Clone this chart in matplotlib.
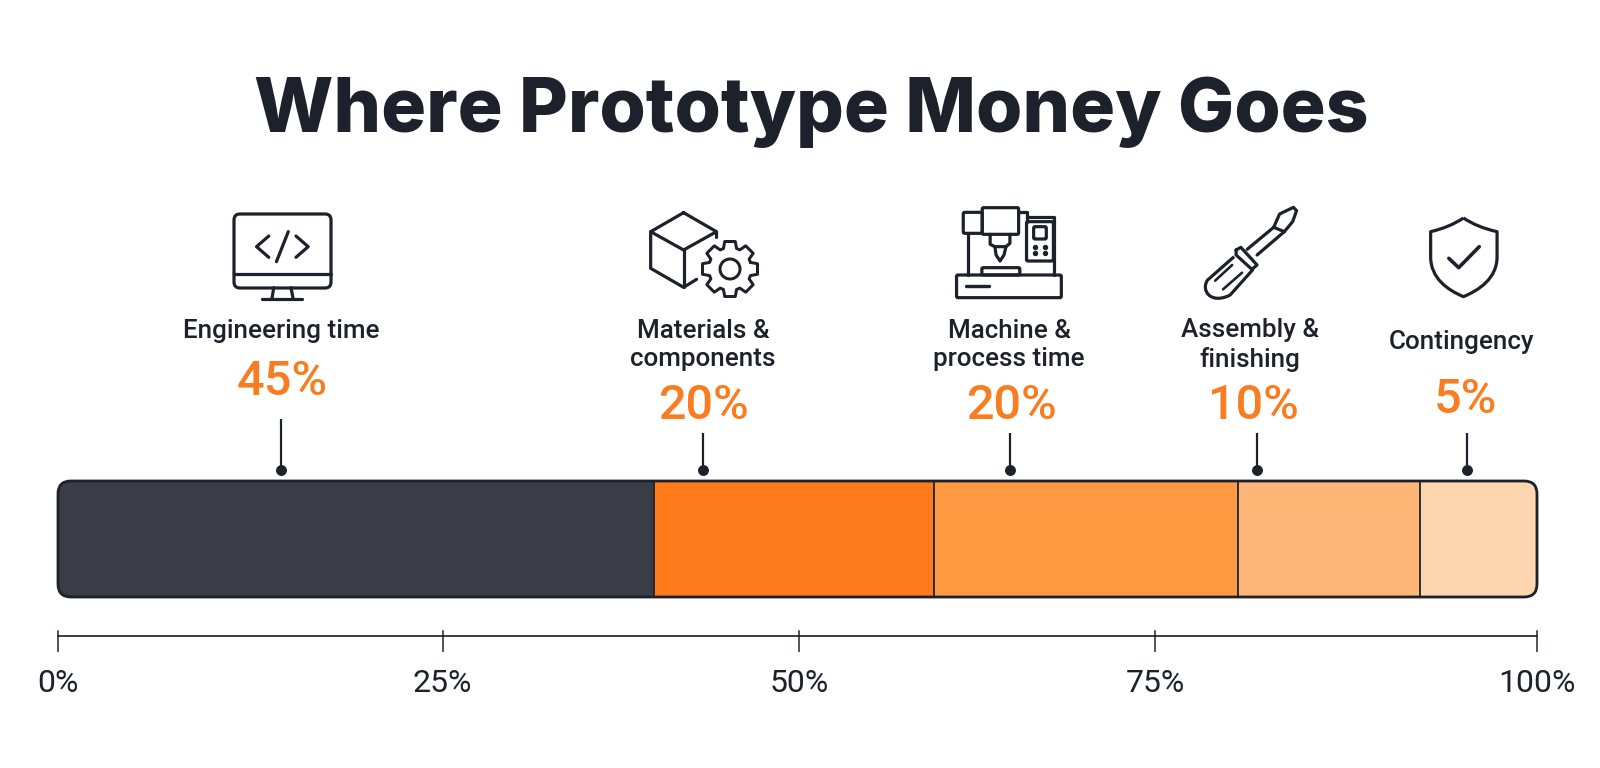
import numpy as np
import matplotlib.pyplot as plt
from matplotlib.patches import FancyBboxPatch, PathPatch, Circle
from matplotlib.path import Path
from matplotlib.ticker import FixedLocator, FixedFormatter
from matplotlib.transforms import Affine2D

# widths of the segments as drawn, they do not follow the printed shares
categories = ['Engineering time', 'Materials &\ncomponents', 'Machine &\nprocess time',
              'Assembly &\nfinishing', 'Contingency']
printed_shares = ['45%', '20%', '20%', '10%', '5%']
drawn_widths = [40.3, 18.9, 20.6, 12.3, 7.9]
callout_at = [15.1, 43.6, 64.4, 81.1, 95.3]
seg_colors = ['#3a3d45', '#ff7a1a', '#ff9a42', '#ffb677', '#fdd5ae']
tick_at = [0, 26.0, 50.1, 74.2, 100]
tick_labels = ['0%', '25%', '50%', '75%', '100%']

INK = '#1c212b'
ORANGE = '#f97c20'
W, H = 1600, 768
px = 72 / 100

plt.rcParams['font.family'] = ['Inter', 'DejaVu Sans']
fig = plt.figure(figsize=(W / 100, H / 100), dpi=100, facecolor='white')

# overlay in pixel coordinates for text and icons
ov = fig.add_axes([0, 0, 1, 1])
ov.set_xlim(0, W)
ov.set_ylim(H, 0)
ov.axis('off')

ax = fig.add_axes([58 / W, 1 - 597 / H, (1537 - 58) / W, 116 / H])
ax.set_xlim(0, 100)
ax.set_ylim(0, 1)
ax.patch.set_visible(False)
ax.get_yaxis().set_visible(False)
for s in ['top', 'left', 'right']:
    ax.spines[s].set_visible(False)

# stacked bar, clipped to a rounded outline
outline = FancyBboxPatch((0, 0), 1479, 116, boxstyle='round,pad=0,rounding_size=13',
                         fc='none', ec=INK, lw=2.8 * px, zorder=5, clip_on=False)
outline.set_transform(Affine2D().scale(100 / 1479, 1 / 116) + ax.transData)
ax.add_patch(outline)
lefts = np.cumsum([0] + drawn_widths[:-1])
bars = ax.barh(0.5, drawn_widths, left=lefts, height=1, color=seg_colors, zorder=2)
for b in bars:
    b.set_clip_path(outline.get_path(), outline.get_transform())
ax.vlines(lefts[1:], 0, 1, color=INK, lw=1.8 * px, zorder=4)

# percent scale under the bar
sp = ax.spines['bottom']
sp.set_position(('outward', 39 * px))
sp.set_bounds(0, 100)
sp.set_linewidth(1.7 * px)
sp.set_color(INK)
ax.xaxis.set_major_locator(FixedLocator(tick_at))
ax.xaxis.set_major_formatter(FixedFormatter(tick_labels))
ax.tick_params(axis='x', length=16 * px, width=1.5 * px, color=INK, pad=17 * px,
               labelsize=23, labelcolor=INK, labelfontfamily='Roboto')
for t in tick_at:
    ax.plot([t, t], [(597 - 636) / 116, (597 - 631) / 116], color=INK, lw=1.5 * px, clip_on=False)

# callouts
for x, top in zip(callout_at, [419, 433, 433, 433, 433]):
    ax.plot([x, x], [(597 - top) / 116, (597 - 470) / 116], color=INK, lw=2.2 * px, clip_on=False,
            solid_capstyle='butt')
    ax.plot([x], [(597 - 470) / 116], 'o', ms=9.5 * px, color=INK, clip_on=False)

ov.text(811, 112, 'Where Prototype Money Goes', ha='center', va='center',
        fontsize=54, fontweight='heavy', color=INK)

label_x = [281, 703, 1009, 1250, 1462]
label_y = [331, 345, 345, 345, 342]
share_x = [282, 703, 1011, 1253, 1465]
share_y = [382, 406, 406, 406, 400]
for c, s, lx, ly, sx, sy in zip(categories, printed_shares, label_x, label_y, share_x, share_y):
    ov.text(lx, ly, c, ha='center', va='center', fontsize=18.7, fontweight='medium', color=INK,
            linespacing=1.24, family='Roboto')
    ov.text(sx, sy, s, ha='center', va='center', fontsize=35, fontweight='medium', color=ORANGE,
            family='Roboto')


# icons are traced in the coordinates of two zoomed crops
def crop_a(p):
    p = np.asarray(p, float)
    return np.c_[180 + p[:, 0] * 600 / 1568, 190 + p[:, 1] / 3]


def crop_b(p):
    p = np.asarray(p, float)
    return np.c_[900 + p[:, 0] * 620 / 1568, 190 + p[:, 1] / 3]


def stroke(pts, lw=3.2):
    pts = np.asarray(pts)
    ov.plot(pts[:, 0], pts[:, 1], color=INK, lw=lw * px, solid_joinstyle='round',
            solid_capstyle='round')


def rbox(x0, y0, x1, y1, r=3.0, lw=3.2):
    ov.add_patch(FancyBboxPatch((x0, y0), x1 - x0, y1 - y0,
                                boxstyle=f'round,pad=0,rounding_size={r}',
                                fc='none', ec=INK, lw=lw * px))


# monitor
rbox(234, 214, 331, 288, 6)
stroke(crop_a([(140, 252), (395, 252)]))
stroke(crop_a([(245, 293), (240, 328)]))
stroke(crop_a([(290, 293), (296, 328)]))
stroke(crop_a([(213, 328), (320, 328)]))
stroke(crop_a([(232, 138), (200, 170), (232, 202)]))
stroke(crop_a([(283, 125), (252, 215)]))
stroke(crop_a([(303, 138), (335, 170), (303, 202)]))

# cube and gear
stroke(crop_a([(1316, 68), (1402, 125), (1316, 180), (1230, 125), (1316, 68)]))
stroke(crop_a([(1230, 125), (1230, 235), (1316, 292), (1350, 268)]))
stroke(crop_a([(1316, 180), (1316, 292)]))
stroke(crop_a([(1402, 125), (1402, 142)]))
cx, cy = 730, 269
ang, rad = [], []
for k in range(8):
    a = k * np.pi / 4
    ang += [a - 0.31, a - 0.19, a + 0.19, a + 0.31]
    rad += [21.5, 28, 28, 21.5]
ang = np.array(ang + ang[:1])
rad = np.array(rad + rad[:1])
stroke(np.c_[cx + rad * np.cos(ang), cy + rad * np.sin(ang)], lw=3)
ov.add_patch(Circle((cx, cy), 10, fc='none', ec=INK, lw=3 * px))

# milling machine
for (x0, y0, x1, y1) in [(143, 255, 408, 323), (207, 233, 303, 255), (208, 53, 300, 133),
                         (160, 67, 208, 130), (320, 95, 388, 213), (338, 110, 370, 147)]:
    (a, b), (c, d) = crop_b([(x0, y0), (x1, y1)])
    rbox(a, b, c, d, 1.5)
stroke(crop_b([(172, 130), (172, 255)]))
stroke(crop_b([(300, 67), (320, 67), (320, 95)]))
stroke(crop_b([(320, 80), (390, 80), (390, 255)]))
stroke(crop_b([(228, 133), (228, 163), (240, 170), (268, 170), (278, 160), (278, 133)]))
stroke(crop_b([(240, 170), (243, 195), (253, 213), (263, 195), (268, 170)]))
stroke(crop_b([(168, 288), (226, 288)]), lw=3.4)
dots = crop_b([(342, 170), (367, 170), (342, 188), (367, 188)])
ov.plot(dots[:, 0], dots[:, 1], 'o', color=INK, ms=4 * px)

# screwdriver
stroke(crop_b([(945, 112), (960, 72), (995, 52), (1003, 62), (993, 95), (972, 125), (945, 112)]))
stroke(crop_b([(945, 112), (878, 178)]))
stroke(crop_b([(972, 125), (903, 195)]))
stroke(crop_b([(850, 180), (862, 172), (903, 225), (890, 238), (850, 195), (850, 180)]))
verts = crop_b([(845, 200), (778, 270), (760, 300), (785, 345), (835, 315), (893, 238)])
ov.add_patch(PathPatch(Path(verts, [Path.MOVETO, Path.LINETO, Path.CURVE4, Path.CURVE4, Path.CURVE4,
                                    Path.LINETO]), fc='none', ec=INK, lw=3.2 * px, joinstyle='round'))
stroke(crop_b([(797, 272), (840, 225)]), lw=2.6)
stroke(crop_b([(817, 298), (865, 248)]), lw=2.6)

# shield
verts = crop_b([(1425, 84), (1390, 112), (1342, 125), (1342, 200), (1342, 265), (1385, 300), (1425, 320),
                (1465, 300), (1510, 265), (1510, 200), (1510, 125), (1460, 112), (1425, 84)])
codes = [Path.MOVETO, Path.CURVE3, Path.CURVE3, Path.LINETO, Path.CURVE4, Path.CURVE4, Path.CURVE4,
         Path.CURVE4, Path.CURVE4, Path.CURVE4, Path.LINETO, Path.CURVE3, Path.CURVE3]
ov.add_patch(PathPatch(Path(verts, codes), fc='none', ec=INK, lw=3.2 * px, joinstyle='round'))
stroke(crop_b([(1388, 205), (1413, 233), (1465, 170)]), lw=3.6)

fig.savefig('out.png', dpi=100, facecolor='white')
